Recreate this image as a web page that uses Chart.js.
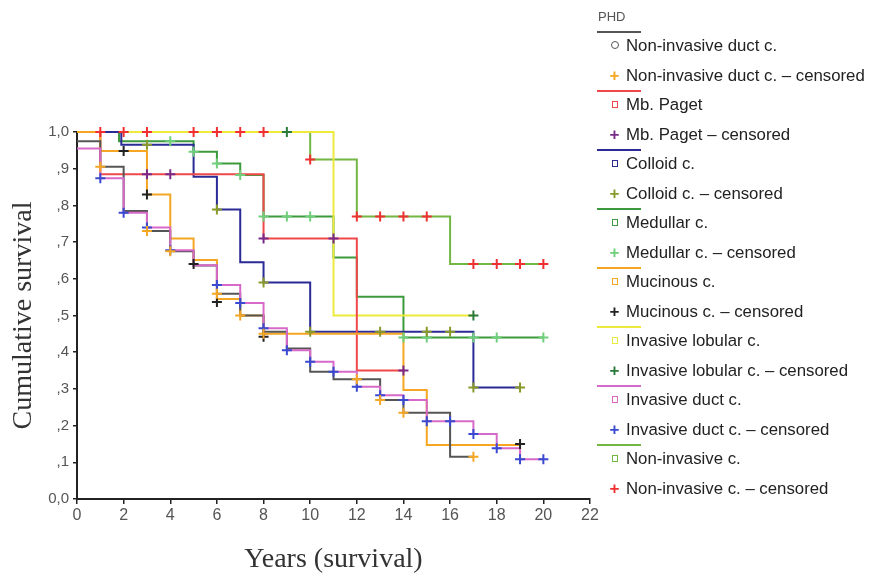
<!DOCTYPE html>
<html>
<head>
<meta charset="utf-8">
<script src="https://cdn.jsdelivr.net/npm/chart.js@4.4.1/dist/chart.umd.min.js"></script>
<style>
  html, body { margin: 0; padding: 0; background: #fff; }
  #wrap { position: relative; width: 869px; height: 575px; }
  #legend { position: absolute; left: 0; top: 0; width: 869px; height: 575px; pointer-events: none;
    font-family: "Liberation Sans", Arial, sans-serif; color: #222; }
  .lg-title { position: absolute; left: 598px; top: 9px; font-size: 13px; color: #555; }
  .lg-line { position: absolute; left: 597px; width: 44px; height: 2px; }
  .lg-row { position: absolute; left: 603px; height: 20px; line-height: 20px; font-size: 16.8px; white-space: nowrap; }
  .lg-mark { display: inline-block; width: 23px; text-align: center; vertical-align: top; }
  .lg-circle { display: inline-block; width: 6px; height: 6px; border: 1.5px solid #555; border-radius: 50%; vertical-align: middle; margin-top: -3px; }
  .lg-square { display: inline-block; width: 4px; height: 5px; border: 1.5px solid; vertical-align: middle; margin-top: -3px; }
  .lg-plus { font-size: 17px; font-weight: bold; }
</style>
</head>
<body>
<div id="wrap">
  <canvas id="kmChart" width="869" height="575"></canvas>
  <div id="legend"></div>
</div>
<script>
// Axis ticks
var xTicks = [0, 2, 4, 6, 8, 10, 12, 14, 16, 18, 20, 22];
var yTickLabels = ['0,0', ',1', ',2', ',3', ',4', ',5', ',6', ',7', ',8', ',9', '1,0'];

// Group names (legend order)
var groupNames = ['Non-invasive duct c.', 'Mb. Paget', 'Colloid c.', 'Medullar c.',
    'Mucinous c.', 'Invasive lobular c.', 'Invasive duct c.', 'Non-invasive c.'];

// Non-invasive duct c.
var nidTimes = [0, 1, 2, 3, 4, 5, 6, 7, 8, 9, 10, 11, 13, 14, 16, 17];
var nidSurv = [0.975, 0.905, 0.785, 0.73, 0.675, 0.636, 0.559, 0.50, 0.456, 0.41, 0.347, 0.326, 0.27, 0.235, 0.115, 0.115];
var nidCensT = [1, 3, 4, 6, 7, 8, 12, 13, 14, 17];
var nidCensS = [0.905, 0.73, 0.675, 0.559, 0.50, 0.45, 0.326, 0.27, 0.235, 0.115];

// Mb. Paget
var pagTimes = [0, 1, 8, 12, 14];
var pagSurv = [1.0, 0.885, 0.71, 0.35, 0.35];
var pagCensT = [3, 4, 8, 11, 14];
var pagCensS = [0.885, 0.885, 0.71, 0.71, 0.35];

// Colloid c.
var colTimes = [0, 1.9, 5, 6, 7, 8, 10, 17, 19];
var colSurv = [1.0, 0.965, 0.878, 0.789, 0.645, 0.59, 0.456, 0.304, 0.304];
var colCensT = [3, 6, 8, 10, 13, 15, 16, 17, 19];
var colCensS = [0.965, 0.789, 0.59, 0.456, 0.456, 0.456, 0.456, 0.304, 0.304];

// Medullar c.
var medTimes = [0, 1.8, 5, 6, 7, 8, 11, 12, 14, 20];
var medSurv = [1.0, 0.975, 0.946, 0.914, 0.883, 0.77, 0.658, 0.551, 0.44, 0.44];
var medCensT = [4, 5, 6, 7, 8, 9, 10, 14, 15, 17, 18, 20];
var medCensS = [0.975, 0.946, 0.914, 0.883, 0.77, 0.77, 0.77, 0.44, 0.44, 0.44, 0.44, 0.44];

// Mucinous c.
var mucTimes = [0, 1, 3, 4, 5, 6, 7, 8, 14, 15, 19];
var mucSurv = [1.0, 0.948, 0.83, 0.71, 0.651, 0.545, 0.50, 0.45, 0.297, 0.147, 0.147];
var mucCensT = [2, 3, 5, 6, 8, 19];
var mucCensS = [0.948, 0.83, 0.64, 0.537, 0.442, 0.15];

// Invasive lobular c.
var lobTimes = [0, 11, 17];
var lobSurv = [1.0, 0.50, 0.50];
var lobCensT = [9, 17];
var lobCensS = [1.0, 0.50];

// Invasive duct c.
var idcTimes = [0, 1, 2, 3, 4, 5, 6, 7, 8, 9, 10, 11, 12, 13, 14, 15, 17, 18, 19, 20];
var idcSurv = [0.955, 0.874, 0.78, 0.74, 0.678, 0.637, 0.583, 0.534, 0.465, 0.405, 0.374, 0.347, 0.306, 0.283, 0.27, 0.212, 0.177, 0.138, 0.108, 0.108];
var idcCensT = [1, 2, 3, 4, 6, 7, 8, 9, 10, 11, 12, 13, 14, 15, 16, 17, 18, 19, 20];
var idcCensS = [0.874, 0.78, 0.74, 0.678, 0.583, 0.534, 0.465, 0.405, 0.374, 0.347, 0.306, 0.283, 0.27, 0.212, 0.212, 0.177, 0.138, 0.108, 0.108];

// Non-invasive c.
var nicTimes = [0, 10, 12, 16, 20];
var nicSurv = [1.0, 0.925, 0.77, 0.64, 0.64];
var nicCensT = [1, 2, 3, 5, 6, 7, 8, 10, 12, 13, 14, 15, 17, 18, 19, 20];
var nicCensS = [1.0, 1.0, 1.0, 1.0, 1.0, 1.0, 1.0, 0.925, 0.77, 0.77, 0.77, 0.77, 0.64, 0.64, 0.64, 0.64];

// Colours: survival line / censored marker
var lineColors = ['#555555', '#f04848', '#2b2b96', '#3c9a3c', '#f5a623', '#eeea3c', '#d76ac8', '#72b644'];
var censColors = ['#f5a623', '#7a2a8a', '#8a9a2a', '#6fcf7a', '#222222', '#2a7a3a', '#3a4ad0', '#f03030'];

var groups = [
    [nidTimes, nidSurv, nidCensT, nidCensS],
    [pagTimes, pagSurv, pagCensT, pagCensS],
    [colTimes, colSurv, colCensT, colCensS],
    [medTimes, medSurv, medCensT, medCensS],
    [mucTimes, mucSurv, mucCensT, mucCensS],
    [lobTimes, lobSurv, lobCensT, lobCensS],
    [idcTimes, idcSurv, idcCensT, idcCensS],
    [nicTimes, nicSurv, nicCensT, nicCensS]
];

function toPoints(xs, ys) {
    return xs.map(function (x, i) { return { x: x, y: ys[i] }; });
}

var datasets = [];
// Draw the curves in reverse legend order so the top lines match the picture
var drawOrder = [7, 3, 5, 2, 1, 4, 0, 6];
drawOrder.forEach(function (g, k) {
    datasets.push({
        label: groupNames[g],
        data: toPoints(groups[g][0], groups[g][1]),
        stepped: true,
        borderColor: lineColors[g],
        borderWidth: 2,
        pointRadius: 0,
        fill: false,
        clip: false,
        order: 20 - k
    });
});
groups.forEach(function (grp, g) {
    datasets.push({
        label: groupNames[g] + ' – censored',
        data: toPoints(grp[2], grp[3]),
        showLine: false,
        pointStyle: 'cross',
        pointRadius: 5,
        pointBorderWidth: 2,
        borderColor: censColors[g],
        backgroundColor: censColors[g],
        clip: false,
        order: 1
    });
});

Chart.defaults.font.family = '"Liberation Sans", Arial, sans-serif';

new Chart(document.getElementById('kmChart'), {
    type: 'line',
    data: { datasets: datasets },
    options: {
        responsive: false,
        animation: false,
        layout: { padding: { left: 0, right: 279, top: 132, bottom: 0 } },
        plugins: { legend: { display: false }, tooltip: { enabled: false } },
        scales: {
            x: {
                type: 'linear',
                min: 0,
                max: 22,
                afterFit: function (scale) { scale.height = 76; },
                afterBuildTicks: function (scale) {
                    scale.ticks = xTicks.map(function (v) { return { value: v }; });
                },
                ticks: { color: '#555', font: { size: 16 }, padding: 2, maxRotation: 0, autoSkip: false },
                border: { color: '#222', width: 2 },
                grid: { drawOnChartArea: false, drawTicks: true, tickLength: 5, color: '#222', lineWidth: 1.5 },
                title: {
                    display: true,
                    text: 'Years (survival)',
                    color: '#333',
                    font: { family: '"Liberation Serif", "Times New Roman", serif', size: 28, lineHeight: 1 },
                    padding: { top: 0, bottom: 1 }
                }
            },
            y: {
                min: 0,
                max: 1,
                afterFit: function (scale) { scale.width = 77; },
                afterBuildTicks: function (scale) {
                    scale.ticks = yTickLabels.map(function (t, i) { return { value: i / 10 }; });
                },
                ticks: {
                    color: '#555',
                    font: { size: 15 },
                    padding: 4,
                    autoSkip: false,
                    callback: function (value, index) { return yTickLabels[index]; }
                },
                border: { color: '#222', width: 2 },
                grid: { drawOnChartArea: false, drawTicks: true, tickLength: 4, color: '#222', lineWidth: 1.5 },
                title: {
                    display: true,
                    text: 'Cumulative survival',
                    color: '#333',
                    font: { family: '"Liberation Serif", "Times New Roman", serif', size: 28, lineHeight: 1 },
                    padding: { top: 10, bottom: 0 }
                }
            }
        }
    }
});

// SPSS-style legend on the right
var legend = document.getElementById('legend');
var html = '<div class="lg-title">PHD</div>';
groupNames.forEach(function (name, i) {
    var base = i * 59;
    var mark = i === 0
        ? '<span class="lg-circle"></span>'
        : '<span class="lg-square" style="border-color:' + lineColors[i] + '"></span>';
    html += '<div class="lg-line" style="top:' + (31 + base) + 'px;background:' + lineColors[i] + '"></div>';
    html += '<div class="lg-row" style="top:' + (36 + base) + 'px"><span class="lg-mark">' + mark + '</span>' + name + '</div>';
    html += '<div class="lg-row" style="top:' + (66 + base) + 'px"><span class="lg-mark lg-plus" style="color:' + censColors[i] + '">+</span>' +
        name + ' – censored</div>';
});
legend.innerHTML = html;
</script>
</body>
</html>
